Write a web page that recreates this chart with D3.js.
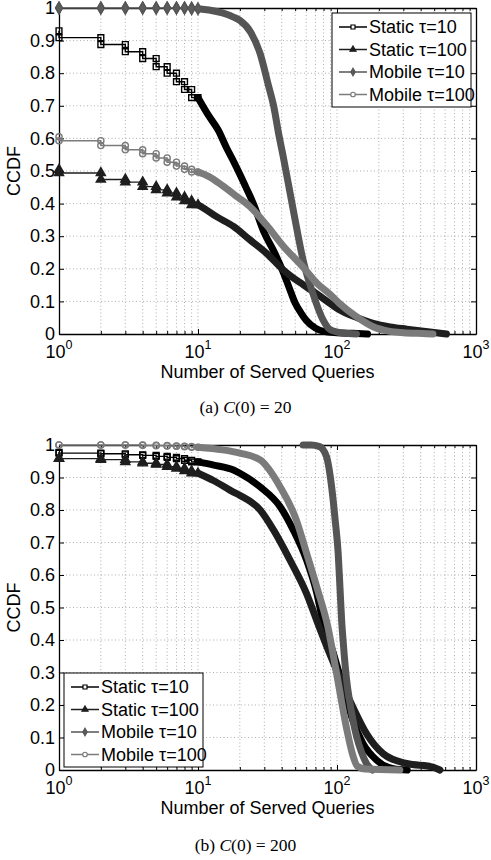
<!DOCTYPE html>
<html>
<head>
<meta charset="utf-8">
<script src="https://cdn.jsdelivr.net/npm/d3@7"></script>
<style>
  body { margin: 0; background: #fff; }
  svg { display: block; font-family: "Liberation Sans", Arial, sans-serif; }
</style>
</head>
<body>
<svg id="chart" width="491" height="860"></svg>
<script>
'use strict';

var seriesNames = ['Static \u03c4=10', 'Static \u03c4=100', 'Mobile \u03c4=10', 'Mobile \u03c4=100'];

// (a) C(0) = 20 -- [served queries, CCDF]
var staticT10A = [[1,0.93],[2,0.909],[3,0.888],[4,0.866],[5,0.845],[6,0.82],[7,0.80],[8,0.774],[9,0.75],[10,0.725],
  [12,0.668],[14,0.625],[16,0.572],[18,0.53],[20,0.49],[22,0.452],[25,0.40],[30,0.31],[35,0.255],[41,0.19],
  [45,0.145],[50,0.095],[55,0.065],[60,0.042],[70,0.018],[80,0.008],[100,0.004],[130,0.002],[166,0]];
var staticT100A = [[1,0.504],[2,0.494],[3,0.474],[4,0.466],[5,0.452],[6,0.442],[7,0.432],[8,0.42],[9,0.408],[10,0.396],
  [11,0.386],[13.6,0.36],[18,0.33],[23.6,0.289],[31,0.248],[41,0.197],[54,0.158],[60,0.145],[72,0.122],[89,0.094],
  [104,0.074],[140,0.05],[182,0.033],[240,0.022],[317,0.015],[450,0.007],[613,0]];
var mobileT10A = [[1,1],[2,1],[3,1],[4,1],[5,1],[6,1],[7,1],[8,1],[9,1],[10,0.998],
  [12,0.994],[15,0.985],[18,0.972],[20,0.962],[24,0.925],[28,0.86],[32,0.765],[35,0.70],[38,0.615],[41,0.545],
  [46,0.432],[51,0.33],[57,0.227],[67,0.125],[79,0.045],[89,0.014],[110,0.003],[138,0]];
var mobileT100A = [[1,0.605],[2,0.593],[3,0.578],[4,0.565],[5,0.553],[6,0.54],[7,0.527],[8,0.515],[9,0.505],[10,0.497],
  [12,0.483],[15,0.455],[19,0.422],[23.6,0.391],[31,0.335],[41,0.27],[57,0.205],[72,0.155],[89,0.122],[104,0.094],
  [138,0.053],[182,0.022],[240,0.008],[300,0.004],[441,0.001],[490,0]];

// (b) C(0) = 200
var staticT10B = [[1,0.977],[2,0.975],[3,0.973],[4,0.97],[5,0.968],[6,0.965],[7,0.962],[8,0.958],[9,0.953],[10,0.948],
  [13,0.938],[18,0.923],[20,0.913],[28,0.871],[39,0.81],[48.5,0.738],[60.5,0.645],[71.5,0.545],[78,0.47],[94,0.36],
  [110.6,0.256],[130,0.153],[154,0.081],[193,0.03],[254,0.004],[320,0]];
var staticT100B = [[1,0.959],[2,0.958],[3,0.955],[4,0.948],[5,0.944],[6,0.94],[7,0.933],[8,0.928],[9,0.92],[10,0.913],
  [13,0.89],[18,0.855],[20,0.845],[28,0.80],[35,0.738],[46,0.645],[60.5,0.542],[71.5,0.46],[80,0.405],[99,0.308],
  [130,0.194],[163,0.112],[215,0.05],[317,0.02],[490,0.009],[550,0]];
var mobileT10B = [[57,1],[65,1],[75,0.995],[84,0.964],[91.5,0.871],[97,0.769],[102,0.666],[105,0.563],[108,0.46],
  [111,0.39],[117,0.28],[124,0.205],[138,0.105],[150,0.055],[163,0.02],[180,0]];
var mobileT100B = [[1,1],[2,1],[3,1],[4,1],[5,0.999],[6,0.998],[7,0.997],[8,0.996],[9,0.995],[10,0.993],
  [15,0.985],[20,0.975],[28,0.954],[39,0.871],[51,0.769],[60.5,0.666],[71.5,0.563],[86,0.44],[100,0.29],[117,0.13],
  [130,0.045],[140,0.012],[160,0.003],[283,0]];

var xDecades = [0, 1, 2, 3];
var yTicks = [0, 0.1, 0.2, 0.3, 0.4, 0.5, 0.6, 0.7, 0.8, 0.9, 1];
var yTickLabels = ['0', '0.1', '0.2', '0.3', '0.4', '0.5', '0.6', '0.7', '0.8', '0.9', '1'];
var xLabel = 'Number of Served Queries';
var yLabel = 'CCDF';

var styles = [
  { color: '#000000', type: d3.symbolSquare, size: 34, fill: 'none' },
  { color: '#1e1e1e', type: d3.symbolTriangle, size: 36, fill: '#1e1e1e' },
  { color: '#555555', type: d3.symbolDiamond, size: 40, fill: '#5c5c5c' },
  { color: '#7b7b7b', type: d3.symbolCircle, size: 30, fill: 'none' }
];
var STEP_MAX = 10; // markers stay apart only up to here, beyond they merge into a band
var FONT = 18;

var svg = d3.select('#chart');

drawPanel({ top: 8, bottom: 334, left: 59, right: 476,
  series: [staticT10A, staticT100A, mobileT10A, mobileT100A],
  legend: { x: 332, y: 13 }, caption: ['(a) ', 'C', '(0) = 20'], captionY: 413 });
drawPanel({ top: 445, bottom: 770, left: 59, right: 476,
  series: [staticT10B, staticT100B, mobileT10B, mobileT100B],
  legend: { x: 64, y: 673 }, caption: ['(b) ', 'C', '(0) = 200'], captionY: 851 });

function drawPanel(o) {
  var x = d3.scaleLog().domain([1, 1000]).range([o.left, o.right]);
  var y = d3.scaleLinear().domain([0, 1]).range([o.bottom, o.top]);
  var g = svg.append('g');
  var xt = x.ticks();
  var isMajor = function(d) { return Math.abs(Math.log10(d) - Math.round(Math.log10(d))) < 1e-9; };

  // dotted grid
  var grid = g.append('g').attr('stroke', '#9a9a9a').attr('stroke-width', 0.8).attr('stroke-dasharray', '1,2.5');
  grid.selectAll('line.gx').data(xt.filter(function(d) { return d > 1 && d < 1000; }))
    .enter().append('line')
    .attr('x1', function(d) { return x(d); }).attr('x2', function(d) { return x(d); })
    .attr('y1', o.top).attr('y2', o.bottom);
  grid.selectAll('line.gy').data(yTicks.slice(1, -1))
    .enter().append('line')
    .attr('x1', o.left).attr('x2', o.right)
    .attr('y1', function(d) { return y(d); }).attr('y2', function(d) { return y(d); });

  // box with inward ticks
  var axes = [
    { a: d3.axisBottom(x).tickValues(xt), t: 'translate(0,' + o.bottom + ')', dir: -1, attr: 'y2', log: true },
    { a: d3.axisTop(x).tickValues(xt), t: 'translate(0,' + o.top + ')', dir: 1, attr: 'y2', log: true },
    { a: d3.axisLeft(y).tickValues(yTicks), t: 'translate(' + o.left + ',0)', dir: 1, attr: 'x2', log: false },
    { a: d3.axisRight(y).tickValues(yTicks), t: 'translate(' + o.right + ',0)', dir: -1, attr: 'x2', log: false }
  ];
  axes.forEach(function(ax, i) {
    ax.a.tickSizeInner(-5).tickSizeOuter(0).tickPadding(4)
      .tickFormat(i === 2 ? function(d, k) { return yTickLabels[k]; } : '');
    var sel = g.append('g').attr('transform', ax.t).call(ax.a);
    sel.select('.domain').attr('stroke-width', 1.3);
    sel.selectAll('.tick line').attr(ax.attr, function(d) {
      return ax.dir * (ax.log && !isMajor(d) ? 3 : 5);
    });
    sel.selectAll('text').attr('font-size', FONT).attr('font-family', '"Liberation Sans", Arial, sans-serif')
      .attr('fill', '#000');
  });

  // decade labels 10^k
  var xl = g.selectAll('text.xl').data(xDecades).enter().append('text')
    .attr('x', function(d) { return x(Math.pow(10, d)); })
    .attr('y', o.bottom + 24)
    .attr('text-anchor', 'middle').attr('font-size', FONT);
  xl.append('tspan').text('10');
  xl.append('tspan').attr('dy', -9).attr('font-size', 12.5).text(function(d) { return d; });

  g.append('text').attr('x', (o.left + o.right) / 2).attr('y', o.bottom + 44)
    .attr('text-anchor', 'middle').attr('font-size', FONT).text(xLabel);
  g.append('text').attr('transform', 'translate(20,' + (o.top + o.bottom) / 2 + ') rotate(-90)')
    .attr('text-anchor', 'middle').attr('font-size', FONT).text(yLabel);

  // series
  var stairs = d3.line().x(function(d) { return x(d[0]); }).y(function(d) { return y(d[1]); })
    .curve(d3.curveStepBefore);
  var band = d3.line().x(function(d) { return x(d[0]); }).y(function(d) { return y(d[1]); })
    .curve(d3.curveMonotoneX);

  o.series.forEach(function(data, i) {
    var s = styles[i];
    var sg = g.append('g');
    var low = data.filter(function(d) { return d[0] <= STEP_MAX; });
    var high = data.filter(function(d) { return d[0] >= STEP_MAX || low.length === 0; });

    if (low.length > 1) {
      sg.append('path').attr('d', stairs(low)).attr('fill', 'none')
        .attr('stroke', s.color).attr('stroke-width', 1.4);
    }
    sg.append('path').attr('d', band(high)).attr('fill', 'none')
      .attr('stroke', s.color).attr('stroke-width', 7)
      .attr('stroke-linecap', 'round').attr('stroke-linejoin', 'round');

    // markers on both corners of every step
    var corners = [];
    low.forEach(function(d, k) {
      corners.push(d);
      var next = data[data.indexOf(d) + 1];
      if (next && k < low.length - 1) corners.push([d[0], next[1]]);
    });
    var sym = d3.symbol().type(s.type).size(s.size);
    sg.selectAll('path.m').data(corners).enter().append('path')
      .attr('transform', function(d) { return 'translate(' + x(d[0]) + ',' + y(d[1]) + ')'; })
      .attr('d', sym).attr('fill', s.fill).attr('stroke', s.color).attr('stroke-width', 1.4);
  });

  // legend
  var lg = g.append('g').attr('transform', 'translate(' + o.legend.x + ',' + o.legend.y + ')');
  lg.append('rect').attr('width', 139).attr('height', 94)
    .attr('fill', '#fff').attr('stroke', '#000').attr('stroke-width', 1);
  seriesNames.forEach(function(name, i) {
    var s = styles[i];
    var ry = 14 + i * 22.5;
    lg.append('line').attr('x1', 7).attr('x2', 35).attr('y1', ry).attr('y2', ry)
      .attr('stroke', s.color).attr('stroke-width', 1.5);
    lg.append('path').attr('transform', 'translate(21,' + ry + ')')
      .attr('d', d3.symbol().type(s.type).size(16)).attr('fill', s.fill === 'none' ? '#fff' : s.fill)
      .attr('stroke', s.color).attr('stroke-width', 1.2);
    lg.append('text').attr('x', 37).attr('y', ry).attr('dy', '0.35em')
      .attr('font-size', FONT).text(name);
  });

  // caption
  var cap = svg.append('text').attr('x', 245.5).attr('y', o.captionY).attr('text-anchor', 'middle')
    .attr('font-family', '"Liberation Serif", "Times New Roman", serif').attr('font-size', 17.5);
  cap.append('tspan').text(o.caption[0]);
  cap.append('tspan').attr('font-style', 'italic').text(o.caption[1]);
  cap.append('tspan').text(o.caption[2]);
}
</script>
</body>
</html>
